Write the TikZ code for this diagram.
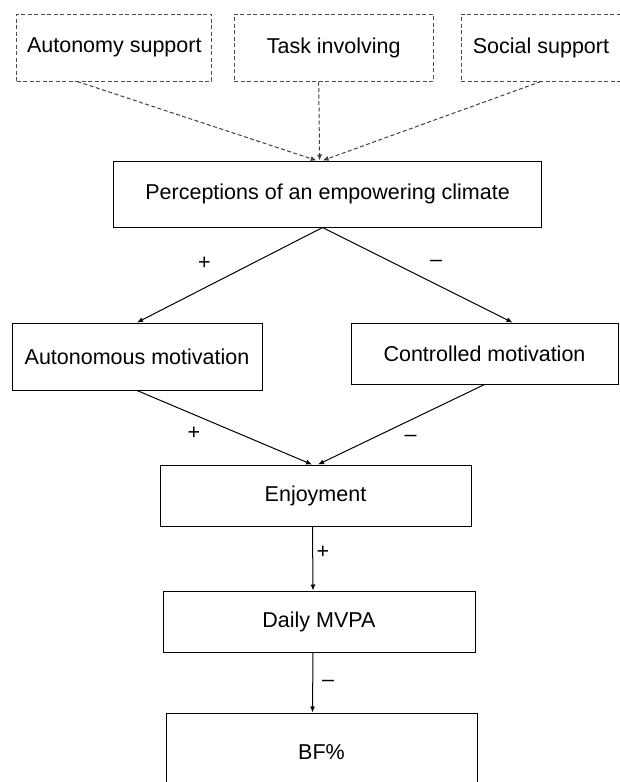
\documentclass[tikz,border=0pt]{standalone}
\usepackage{fontspec}
\setmainfont{Liberation Sans}
\usetikzlibrary{arrows.meta}

\begin{document}
\begin{tikzpicture}[x=1pt,y=-1pt,
    font=\fontsize{21.5}{25}\selectfont,
    box/.style={draw,line width=1pt,inner sep=0pt,align=center},
    dbox/.style={draw,dash pattern=on 4pt off 2.5pt,gray!60!black,line width=1pt,inner sep=0pt,text=black},
    arr/.style={line width=1pt,-{Latex[length=6pt,width=5pt]}},
    darr/.style={dash pattern=on 4pt off 2.5pt,black!75,line width=1pt,-{Latex[length=6pt,width=5pt]}},
    sign/.style={inner sep=0pt}]

    \useasboundingbox (0,0) rectangle (619,782);

    % climate dimensions
    \node[dbox,minimum width=195pt,minimum height=67pt] (auto) at (114.3,47.5) {Autonomy support};
    \node[dbox,minimum width=199pt,minimum height=67pt] (task) at (333.7,47.5) {Task involving};
    \node[dbox,minimum width=160pt,minimum height=67pt] (social) at (541,47.5) {Social support};

    % empowering climate
    \node[box,minimum width=428pt,minimum height=66pt] (perc) at (327.6,194) {Perceptions of an empowering climate};
    \draw[darr]([xshift=-37pt]auto.south) to ([xshift=-11pt]perc.north);
    \draw[darr]([xshift=-15pt]task.south) to ([xshift=-8pt]perc.north);
    \draw[darr](social.south) to ([xshift=-5pt]perc.north);

    %%%%%%%%%%%%%%%%%%%%%%%%%%%%%%%%%%%%%%%%%%%%%%%%%%%%%%%%%

    % motivation
    \node[box,minimum width=250pt,minimum height=67pt] (automot) at (137,356.5) {Autonomous motivation};
    \node[box,minimum width=267pt,minimum height=61pt] (ctrlmot) at (484.5,353.5) {Controlled motivation};
    \draw[arr]([xshift=-5pt]perc.south) to (automot.north);
    \draw[arr]([xshift=-5pt]perc.south) to ([xshift=28pt]ctrlmot.north);
    \node[sign] (s1) at (204.5,263) {+};
    \node[sign] (s2) at (436,263) {--};

    % enjoyment
    \node[box,minimum width=311pt,minimum height=61pt] (enjoy) at (315.5,495.5) {Enjoyment};
    \draw[arr](automot.south) to ([xshift=-3.5pt]enjoy.north);
    \draw[arr](ctrlmot.south) to ([xshift=2.5pt]enjoy.north);
    \node[sign] (s3) at (194,433) {+};
    \node[sign] (s4) at (410.6,438) {--};

    % activity
    \node[box,minimum width=312pt,minimum height=61pt] (mvpa) at (319,621.5) {Daily MVPA};
    \draw[arr]([xshift=-3pt]enjoy.south) to ([xshift=-6pt]mvpa.north);
    \node[sign] (s5) at (323,552) {+};

    % body fat
    \node[box,minimum width=311pt,minimum height=78pt] (bf) at (321.5,752) {BF\%};
    \draw[arr]([xshift=-6pt]mvpa.south) to ([xshift=-9pt]bf.north);
    \node[sign] (s6) at (328,683) {--};

\end{tikzpicture}
\end{document}
